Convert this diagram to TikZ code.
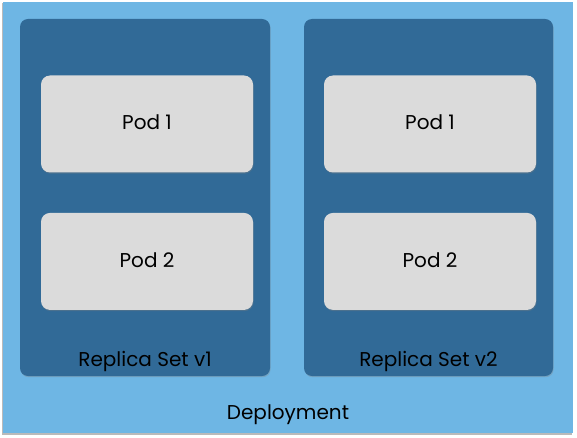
\documentclass[tikz,border=0pt]{standalone}
\usepackage{fontspec}
\setmainfont{Poppins}
\usepackage{xcolor}
\usetikzlibrary{positioning, shadows}

\definecolor{deploycol}{HTML}{6EB6E4}
\definecolor{rscol}{HTML}{316A97}
\definecolor{podcol}{HTML}{DBDBDB}

\begin{document}
\begin{tikzpicture}[
  x=1pt, y=-1pt,
  node distance=40pt,
  deploybox/.style={rectangle, fill=deploycol, minimum width=570pt,
              minimum height=431pt, inner sep=0pt,
              drop shadow={shadow xshift=-0.8pt, shadow yshift=-1.5pt, fill=black!45, opacity=0.6}},
  rsbox/.style={rectangle, fill=rscol, rounded corners=8pt,
              minimum width=250pt, minimum height=357pt, inner sep=0pt,
              drop shadow={shadow xshift=0.6pt, shadow yshift=-1.2pt, opacity=0.35}},
  podbox/.style={rectangle, fill=podcol, rounded corners=9pt,
              minimum width=212pt, minimum height=97pt, inner sep=0pt,
              text depth=3pt, font=\fontsize{20}{22}\selectfont,
              drop shadow={shadow xshift=0.6pt, shadow yshift=-1.2pt, opacity=0.35}},
  tag/.style={font=\fontsize{20}{22}\selectfont, inner sep=0pt}
]
\useasboundingbox (0,0) rectangle (577,438);

\node[deploybox] (deploy) at (288,217.5) {};

% replica sets
\node[rsbox] (rs1) at (145,197.5) {};
\node[rsbox, minimum width=249pt] (rs2) at (428.5,197.5) {};

% pods
\node[podbox] (rs1pod1) at (147,124) {Pod 1};
\node[podbox, below=40pt of rs1pod1] (rs1pod2) {Pod 2};
\node[podbox] (rs2pod1) at (430,124) {Pod 1};
\node[podbox, below=40pt of rs2pod1] (rs2pod2) {Pod 2};

% labels
\node[tag, above=4pt of rs1.south] (rs1name) {Replica Set v1};
\node[tag, above=4pt of rs2.south] (rs2name) {Replica Set v2};
\node[tag, above=8pt of deploy.south] (deployname) {Deployment};
\end{tikzpicture}
\end{document}
